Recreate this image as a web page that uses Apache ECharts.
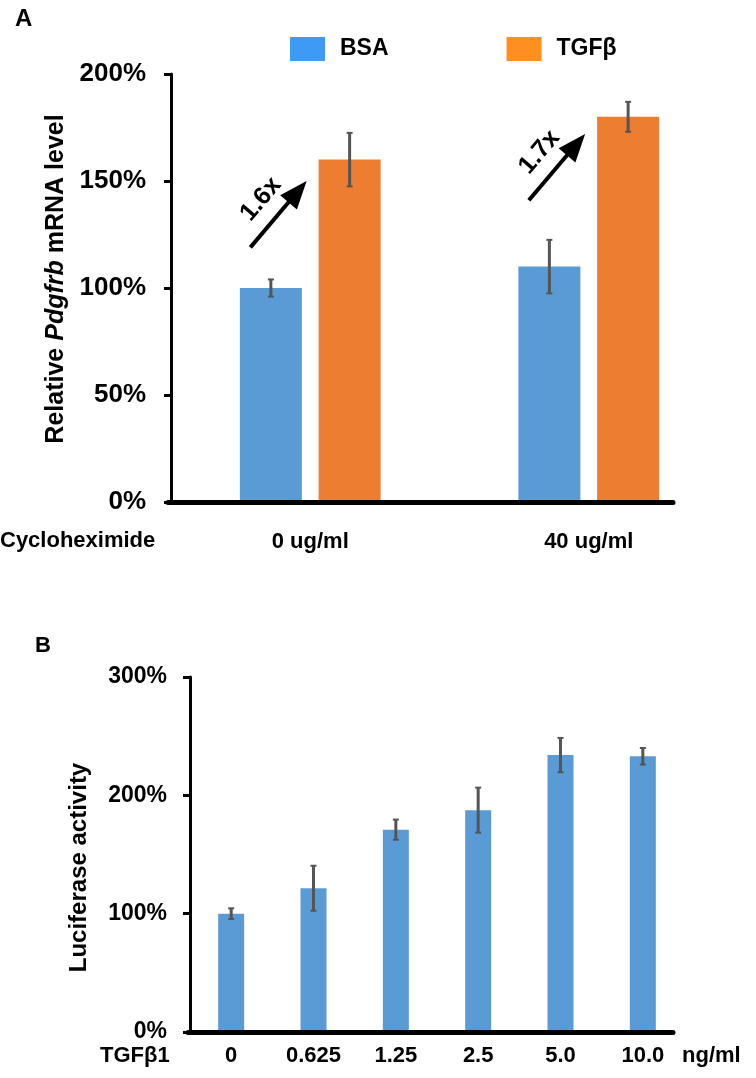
<!DOCTYPE html>
<html><head><meta charset="utf-8">
<script src="https://cdn.jsdelivr.net/npm/echarts@6/dist/echarts.min.js"></script>
<style>html,body{margin:0;padding:0;background:#fff}#c{width:756px;height:1078px}</style>
</head><body><div id="c"></div>
<script>
// ---------- Panel A data ----------
const catsA = ['0 ug/ml', '40 ug/ml'];
const seriesNamesA = ['BSA', 'TGFβ'];
const bsaVals = [100, 110];
const bsaErr = [4, 12.5];
const tgfVals = [160, 180];
const tgfErr = [12.5, 7];
const foldLabels = ['1.6x', '1.7x'];
const arrowFrom = [119, 141];
const arrowTo = [150, 172];
const yTicksA = [0, 50, 100, 150, 200];

// ---------- Panel B data ----------
const catsB = ['0', '0.625', '1.25', '2.5', '5.0', '10.0'];
const lucVals = [100, 121.5, 171, 187.5, 234, 233];
const lucErr = [4.5, 19, 8.5, 19, 14.5, 7];
const yTicksB = [0, 100, 200, 300];

const FONT = '"Liberation Sans", Arial, Helvetica, sans-serif';
const BLUE = '#5B9BD5', ORANGE = '#ED7D31';
const BAR_W_A = 62, GAP_A = 0.27, BAR_W_B = 26;

function errItem(offset) {
  return function (params, api) {
    const i = api.value(0), v = api.value(1), e = api.value(2), side = api.value(3);
    const x = api.coord([i, v])[0] + side * offset;
    const yt = api.coord([i, v + e])[1];
    const yb = api.coord([i, v - e])[1];
    const st = { stroke: '#555', lineWidth: 3 };
    const sc = { stroke: '#555', lineWidth: 2 };
    return { type: 'group', children: [
      { type: 'line', shape: { x1: x, y1: yt, x2: x, y2: yb }, style: st },
      { type: 'line', shape: { x1: x - 3, y1: yt, x2: x + 3, y2: yt }, style: sc },
      { type: 'line', shape: { x1: x - 3, y1: yb, x2: x + 3, y2: yb }, style: sc }
    ]};
  };
}

function arrowItem(params, api) {
  const i = api.value(0);
  const band = api.size([1, 0])[0];
  const c0 = api.coord([i, api.value(1)]);
  const c1 = api.coord([i, api.value(2)]);
  const x0 = c0[0] - 0.215 * band, y0 = c0[1];
  const x1 = c1[0] - 0.013 * band, y1 = c1[1];
  const dx = x1 - x0, dy = y1 - y0, len = Math.sqrt(dx * dx + dy * dy);
  const ux = dx / len, uy = dy / len;
  const headLen = 28, headW = 22;
  const bx = x1 - ux * headLen, by = y1 - uy * headLen;
  const px = -uy, py = ux;
  const mx = (x0 + x1) / 2, my = (y0 + y1) / 2;
  const nx = uy, ny = -ux;
  const ang = Math.atan2(-dy, dx);
  return { type: 'group', children: [
    { type: 'line', shape: { x1: x0, y1: y0, x2: bx + ux * 2, y2: by + uy * 2 }, style: { stroke: '#000', lineWidth: 4 } },
    { type: 'polygon', shape: { points: [[x1, y1], [bx + px * headW / 2, by + py * headW / 2], [bx - px * headW / 2, by - py * headW / 2]] }, style: { fill: '#000' } },
    { type: 'text', x: mx + nx * 23, y: my + ny * 23, rotation: ang,
      style: { text: foldLabels[params.dataIndex], fontSize: 25, fontWeight: 'bold', fontFamily: FONT, fill: '#000', align: 'center', verticalAlign: 'middle' } }
  ]};
}

const boldText = (size) => ({ fontSize: size, fontWeight: 'bold', color: '#000', fontFamily: FONT });

const chart = echarts.init(document.getElementById('c'));
chart.setOption({
  animation: false,
  backgroundColor: '#fff',
  textStyle: { fontFamily: FONT },
  title: [
    { text: 'A', left: 15, top: 7, padding: 0, textStyle: boldText(24) },
    { text: 'Cycloheximide', left: 0, top: 530, padding: 0, textStyle: boldText(22) },
    { text: 'B', left: 35, top: 635, padding: 0, textStyle: boldText(22) },
    { text: 'TGFβ1', left: 100, top: 1045, padding: 0, textStyle: boldText(22) },
    { text: 'ng/ml', left: 682, top: 1045, padding: 0, textStyle: boldText(22) }
  ],
  legend: {
    left: 285, top: 32, itemWidth: 35, itemHeight: 24, itemGap: 118, icon: 'rect',
    selectedMode: false,
    data: [
      { name: seriesNamesA[0], itemStyle: { color: '#3D9BF5' } },
      { name: seriesNamesA[1], itemStyle: { color: '#FF8F1F' } }
    ],
    textStyle: Object.assign(boldText(23), { padding: [0, 0, 0, 10] })
  },
  grid: [
    { left: 171, top: 74, width: 557, height: 428 },
    { left: 168, top: 74, width: 505, height: 428 },
    { left: 190, top: 677, width: 494, height: 355 },
    { left: 188, top: 677, width: 485, height: 355 }
  ],
  xAxis: [
    { gridIndex: 0, type: 'category', data: catsA, axisLine: { show: false }, axisTick: { show: false },
      axisLabel: Object.assign(boldText(22), { margin: 29 }) },
    { gridIndex: 1, type: 'value', min: 0, max: 1, z: 10, axisLine: { show: true, lineStyle: { color: '#000', width: 5 } },
      axisTick: { show: false }, axisLabel: { show: false }, splitLine: { show: false } },
    { gridIndex: 2, type: 'category', data: catsB, axisLine: { show: false }, axisTick: { show: false },
      axisLabel: Object.assign(boldText(22), { margin: 13 }) },
    { gridIndex: 3, type: 'value', min: 0, max: 1, z: 10, axisLine: { show: true, lineStyle: { color: '#000', width: 5 } },
      axisTick: { show: false }, axisLabel: { show: false }, splitLine: { show: false } }
  ],
  yAxis: [
    { gridIndex: 0, type: 'value', min: yTicksA[0], max: yTicksA[yTicksA.length - 1], interval: yTicksA[1] - yTicksA[0],
      axisLine: { show: true, lineStyle: { color: '#000', width: 3 } },
      axisTick: { show: true, length: 7, lineStyle: { color: '#000', width: 3 } },
      axisLabel: Object.assign(boldText(26), { margin: 25, formatter: '{value}%' }),
      splitLine: { show: false },
      name: '{n|Relative }{i|Pdgfrb}{n| mRNA level}', nameLocation: 'middle', nameGap: 101, nameRotate: 90,
      nameTextStyle: { fontFamily: FONT, padding: [0, 0, 0, 18], rich: {
        n: { fontSize: 25, fontWeight: 'bold', color: '#000', fontFamily: FONT },
        i: { fontSize: 25, fontWeight: 'bold', fontStyle: 'italic', color: '#000', fontFamily: FONT } } } },
    { gridIndex: 1, type: 'value', min: 0, max: 200, show: false },
    { gridIndex: 2, type: 'value', min: yTicksB[0], max: yTicksB[yTicksB.length - 1], interval: yTicksB[1] - yTicksB[0],
      axisLine: { show: true, lineStyle: { color: '#000', width: 3 } },
      axisTick: { show: true, length: 7, lineStyle: { color: '#000', width: 3 } },
      axisLabel: Object.assign(boldText(23), { margin: 23, formatter: '{value}%' }),
      splitLine: { show: false },
      name: 'Luciferase activity', nameLocation: 'middle', nameGap: 99, nameRotate: 90,
      nameTextStyle: Object.assign(boldText(24), { padding: [0, 26, 0, 0] }) },
    { gridIndex: 3, type: 'value', min: 0, max: 300, show: false }
  ],
  series: [
    { name: seriesNamesA[0], type: 'bar', xAxisIndex: 0, yAxisIndex: 0, data: bsaVals,
      barWidth: BAR_W_A, barGap: (GAP_A * 100) + '%', itemStyle: { color: BLUE } },
    { name: seriesNamesA[1], type: 'bar', xAxisIndex: 0, yAxisIndex: 0, data: tgfVals,
      barWidth: BAR_W_A, barGap: (GAP_A * 100) + '%', itemStyle: { color: ORANGE } },
    { name: 'errA', type: 'custom', xAxisIndex: 0, yAxisIndex: 0, z: 5,
      renderItem: errItem(BAR_W_A * (1 + GAP_A) / 2),
      data: bsaVals.map((v, i) => [i, v, bsaErr[i], -1]).concat(tgfVals.map((v, i) => [i, v, tgfErr[i], 1])) },
    { name: 'arrows', type: 'custom', xAxisIndex: 0, yAxisIndex: 0, z: 6, renderItem: arrowItem,
      data: arrowFrom.map((v, i) => [i, v, arrowTo[i]]) },
    { name: 'Luciferase', type: 'bar', xAxisIndex: 2, yAxisIndex: 2, data: lucVals,
      barWidth: BAR_W_B, itemStyle: { color: BLUE } },
    { name: 'errB', type: 'custom', xAxisIndex: 2, yAxisIndex: 2, z: 5, renderItem: errItem(0),
      data: lucVals.map((v, i) => [i, v, lucErr[i], 0]) }
  ]
});
</script>
</body></html>
